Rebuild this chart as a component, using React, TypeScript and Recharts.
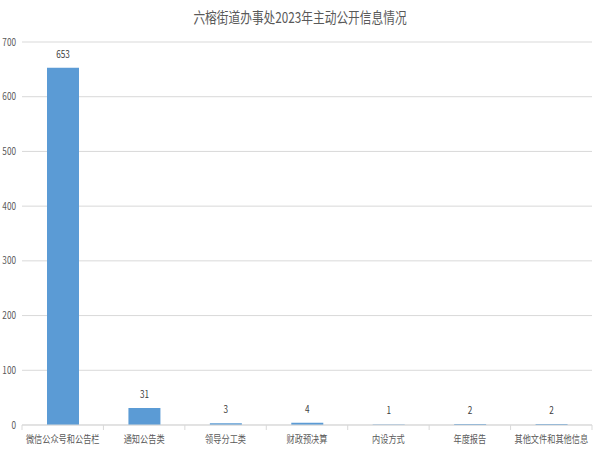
import React from "react";
import { BarChart, Bar, XAxis, YAxis, CartesianGrid, LabelList } from "recharts";

const categories = ["微信公众号和公告栏", "通知公告类", "领导分工类", "财政预决算", "内设方式", "年度报告", "其他文件和其他信息"];
const counts = [653, 31, 3, 4, 1, 2, 2];
const yTicks = [0, 100, 200, 300, 400, 500, 600, 700];
const title = "六榕街道办事处2023年主动公开信息情况";

const data = categories.map((name, i) => ({ name, value: counts[i] }));

const FONT = '"Noto Sans CJK SC", "Noto Sans", sans-serif';
const SX = 0.82;

const CategoryTick = (props: any) => {
  const { x, y, payload, index, visibleTicksCount } = props;
  const half = (payload && payload.offset) || 570 / 7 / 2;
  const axisY = y - 8;
  const last = index === (visibleTicksCount ?? 7) - 1;
  return (
    <g>
      <line x1={x - half} x2={x - half} y1={axisY} y2={axisY + 5} stroke="#d9d9d9" />
      {last && <line x1={x + half} x2={x + half} y1={axisY} y2={axisY + 5} stroke="#d9d9d9" />}
      <g transform={`translate(${x},${y + 10}) scale(${SX},1)`}>
        <text x={0} y={0} textAnchor="middle" fill="#595959" fontSize={10} fontFamily={FONT}>
          {payload.value}
        </text>
      </g>
    </g>
  );
};

const ValueTick = (props: any) => {
  const { x, y, payload } = props;
  return (
    <g transform={`translate(${x},${y}) scale(${SX},1)`}>
      <text x={0} y={0} dy="0.35em" textAnchor="end" fill="#595959" fontSize={10} fontFamily={FONT}>
        {payload.value}
      </text>
    </g>
  );
};

const BarLabel = (props: any) => {
  const { x, y, width, value } = props;
  return (
    <g transform={`translate(${x + width / 2},${y - 10}) scale(${SX},1)`}>
      <text x={0} y={0} textAnchor="middle" fill="#404040" fontSize={10} fontFamily={FONT}>
        {value}
      </text>
    </g>
  );
};

export default function App() {
  return (
    <div style={{ position: "absolute", left: 0, top: 0, width: 600, height: 450, background: "#fff" }}>
      <div
        style={{
          position: "absolute",
          left: 0,
          top: 6,
          width: 600,
          textAlign: "center",
          fontFamily: FONT,
          fontSize: 15,
          color: "#595959",
          transform: "scaleX(0.78)",
        }}
      >
        {title}
      </div>
      <BarChart width={600} height={450} data={data} margin={{ top: 42, right: 8, left: 0, bottom: 0 }}>
        <CartesianGrid vertical={false} stroke="#d9d9d9" />
        <XAxis
          dataKey="name"
          height={25}
          axisLine={{ stroke: "#d9d9d9" }}
          tickLine={false}
          interval={0}
          tick={<CategoryTick />}
        />
        <YAxis
          width={22}
          domain={[0, 700]}
          ticks={yTicks}
          axisLine={false}
          tickLine={false}
          tickSize={0}
          tickMargin={6}
          tick={<ValueTick />}
        />
        <Bar dataKey="value" fill="#5B9BD5" barSize={32} isAnimationActive={false}>
          <LabelList dataKey="value" content={<BarLabel />} />
        </Bar>
      </BarChart>
    </div>
  );
}
